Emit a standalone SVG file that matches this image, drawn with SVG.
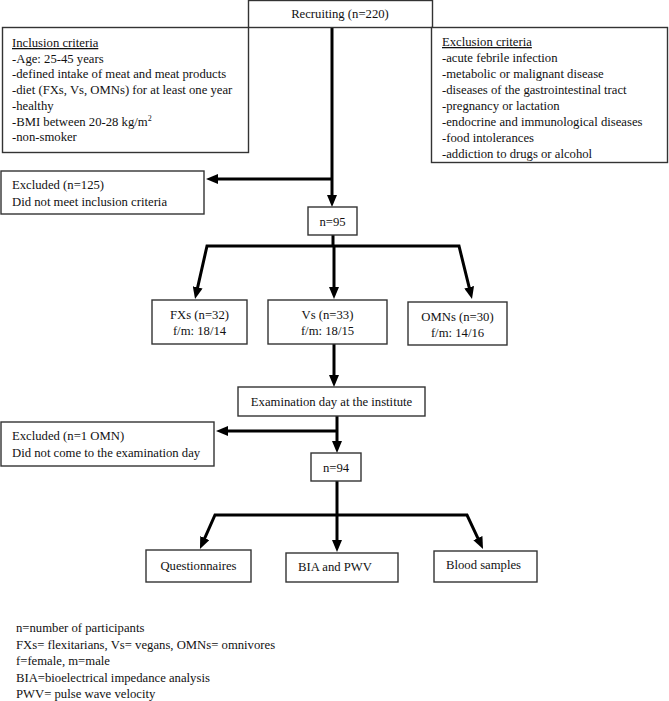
<svg xmlns="http://www.w3.org/2000/svg" width="669" height="701" viewBox="0 0 669 701">
<style>
text{font-family:"Liberation Serif","Times New Roman",serif;font-size:12.7px;fill:#111}
.c{text-anchor:middle}
.u{text-decoration:underline}
rect{fill:#fff;stroke:#333;stroke-width:1.4}
.ln{fill:none;stroke:#000;stroke-width:3;stroke-linejoin:miter}
</style>
<defs>
<marker id="ah" markerUnits="userSpaceOnUse" markerWidth="12" markerHeight="10" viewBox="0 0 12 10" refX="4" refY="5" orient="auto-start-reverse">
<path d="M0,0 L12,5 L0,10 z" fill="#000"/>
</marker>
</defs>
<g id="connectors">
<path class="ln" d="M332,27 V199" marker-end="url(#ah)"/>
<path class="ln" d="M332,179 H214" marker-end="url(#ah)"/>
<path class="ln" d="M333,235 V246"/>
<path class="ln" d="M196.8,291.2 L207,246 L459,246 L470.1,291.2" marker-start="url(#ah)" marker-end="url(#ah)"/>
<path class="ln" d="M334,246 V291" marker-end="url(#ah)"/>
<path class="ln" d="M334,344 V379" marker-end="url(#ah)"/>
<path class="ln" d="M337,416 V445" marker-end="url(#ah)"/>
<path class="ln" d="M337,431 H224" marker-end="url(#ah)"/>
<path class="ln" d="M337,481 V515"/>
<path class="ln" d="M203.2,541.7 L215,515 L467,515 L479.6,541.8" marker-start="url(#ah)" marker-end="url(#ah)"/>
<path class="ln" d="M337,515 V544" marker-end="url(#ah)"/>
</g>
<g id="recruiting">
<rect x="248.5" y="0.5" width="184" height="27"/>
<text class="c" x="340" y="18">Recruiting (n=220)</text>
</g>
<g id="inclusion">
<rect x="2.5" y="27.5" width="246" height="125"/>
<text x="12" y="47" class="u">Inclusion criteria</text>
<text x="12" y="62.7">-Age: 25-45 years</text>
<text x="12" y="78.4">-defined intake of meat and meat products</text>
<text x="12" y="94.1">-diet (FXs, Vs, OMNs) for at least one year</text>
<text x="12" y="109.8">-healthy</text>
<text x="12" y="125.5">-BMI between 20-28 kg/m<tspan dy="-5" font-size="8">2</tspan></text>
<text x="12" y="141.2">-non-smoker</text>
</g>
<g id="exclusion">
<rect x="431.5" y="27.5" width="236" height="135"/>
<text x="442" y="46" class="u">Exclusion criteria</text>
<text x="442" y="62">-acute febrile infection</text>
<text x="442" y="78">-metabolic or malignant disease</text>
<text x="442" y="94">-diseases of the gastrointestinal tract</text>
<text x="442" y="110">-pregnancy or lactation</text>
<text x="442" y="126">-endocrine and immunological diseases</text>
<text x="442" y="142">-food intolerances</text>
<text x="442" y="158">-addiction to drugs or alcohol</text>
</g>
<g id="excluded1">
<rect x="1" y="171" width="203" height="43"/>
<text x="12" y="188.5">Excluded (n=125)</text>
<text x="12" y="206">Did not meet inclusion criteria</text>
</g>
<g id="n95">
<rect x="308" y="207" width="49" height="28"/>
<text class="c" x="332.5" y="226">n=95</text>
</g>
<g id="fxs">
<rect x="152" y="300" width="95" height="44"/>
<text class="c" x="199.5" y="319">FXs (n=32)</text>
<text class="c" x="199.5" y="335">f/m: 18/14</text>
</g>
<g id="vs">
<rect x="268" y="300" width="119" height="44"/>
<text class="c" x="327.5" y="319">Vs (n=33)</text>
<text class="c" x="327.5" y="335">f/m: 18/15</text>
</g>
<g id="omns">
<rect x="408" y="302" width="99" height="43"/>
<text class="c" x="457.5" y="321">OMNs (n=30)</text>
<text class="c" x="457.5" y="337">f/m: 14/16</text>
</g>
<g id="exam">
<rect x="238" y="387" width="187" height="29"/>
<text class="c" x="331.5" y="406">Examination day at the institute</text>
</g>
<g id="excluded2">
<rect x="1" y="422" width="213" height="44"/>
<text x="12" y="440">Excluded (n=1 OMN)</text>
<text x="12" y="457">Did not come to the examination day</text>
</g>
<g id="n94">
<rect x="311" y="453" width="50" height="28"/>
<text class="c" x="336" y="472">n=94</text>
</g>
<g id="questionnaires">
<rect x="146" y="550" width="105" height="32"/>
<text class="c" x="198.5" y="570">Questionnaires</text>
</g>
<g id="bia">
<rect x="286" y="553" width="112" height="29"/>
<text class="c" x="335" y="571">BIA and PWV</text>
</g>
<g id="blood">
<rect x="434" y="551" width="103" height="31"/>
<text class="c" x="483.5" y="569">Blood samples</text>
</g>
<g id="legend">
<text x="16" y="632">n=number of participants</text>
<text x="16" y="648.5">FXs= flexitarians, Vs= vegans, OMNs= omnivores</text>
<text x="16" y="665">f=female, m=male</text>
<text x="16" y="681.5">BIA=bioelectrical impedance analysis</text>
<text x="16" y="698">PWV= pulse wave velocity</text>
</g>
</svg>
